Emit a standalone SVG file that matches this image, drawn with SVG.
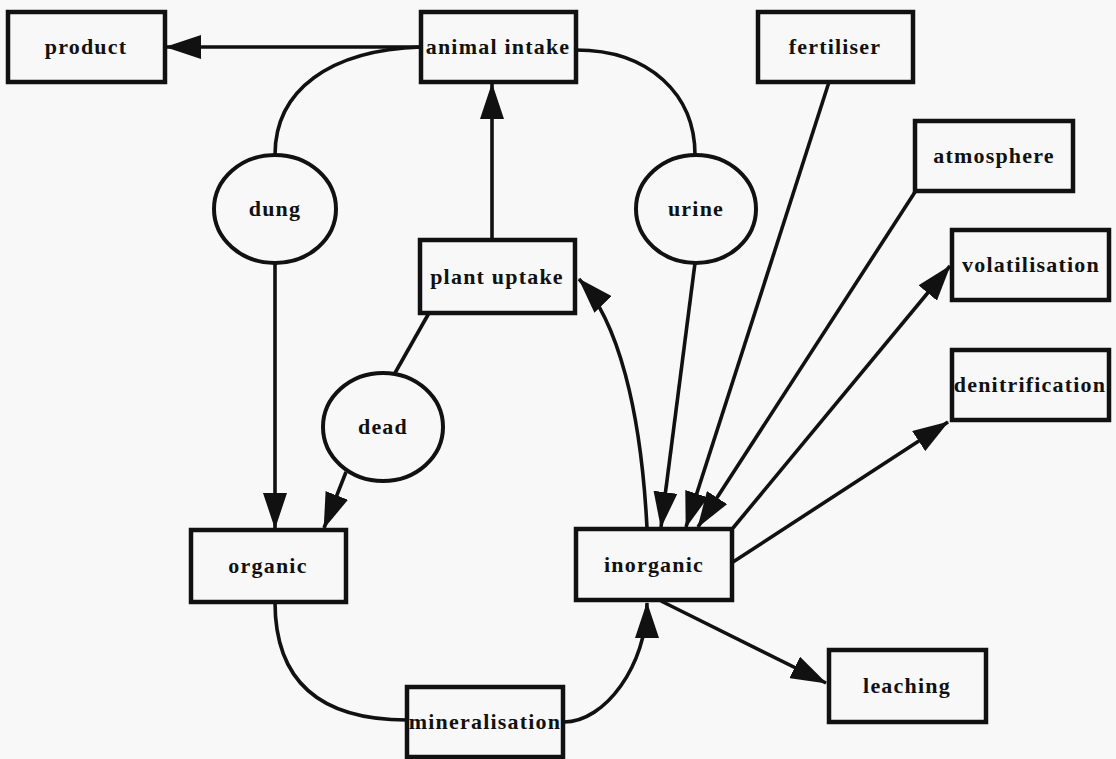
<svg xmlns="http://www.w3.org/2000/svg" width="1116" height="759" viewBox="0 0 1116 759">
<style>
.bx{fill:#f8f8f8;stroke:#111;stroke-width:4.5}
.el{fill:#f8f8f8;stroke:#111;stroke-width:4}
.ln{fill:none;stroke:#111;stroke-width:3.6}
.ar{marker-end:url(#ah)}
text{font-family:"Liberation Serif","Times New Roman",serif;font-weight:bold;font-size:22px;letter-spacing:1.2px;fill:#111;text-anchor:middle}
</style>
<defs>
<marker id="ah" markerUnits="userSpaceOnUse" markerWidth="36" markerHeight="24" refX="35" refY="12" orient="auto">
<path d="M0,0 L36,12 L0,24 Z" fill="#111"/>
</marker>
</defs>
<rect width="1116" height="759" fill="#f8f8f8"/>
<g id="connectors">
<path class="ln ar" d="M421,47 L166,47"/>
<path class="ln" d="M275,155 C275,90 330,50 421,47"/>
<path class="ln" d="M576,50 C650,50 695,95 695,155"/>
<path class="ln ar" d="M492,240 L492,84"/>
<path class="ln ar" d="M275,263 L275,528"/>
<path class="ln" d="M429,313 L395,373"/>
<path class="ln ar" d="M346,472 L324,528"/>
<path class="ln ar" d="M647,528 C641,410 618,320 579,279"/>
<path class="ln ar" d="M695,263 L661,527"/>
<path class="ln ar" d="M829,82 L686,527"/>
<path class="ln ar" d="M915,192 L698,527"/>
<path class="ln ar" d="M733,528 L950,266"/>
<path class="ln ar" d="M733,562 L948,422"/>
<path class="ln ar" d="M661,601 L826,683"/>
<path class="ln" d="M275,602 C275,690 330,720 407,720"/>
<path class="ln ar" d="M564,722 C605,722 647,665 647,603"/>
</g>
<g id="product"><rect class="bx" x="8" y="12" width="157" height="70"/><text x="86" y="54">product</text></g>
<g id="animal-intake"><rect class="bx" x="421" y="12" width="155" height="70"/><text x="498" y="54">animal intake</text></g>
<g id="fertiliser"><rect class="bx" x="758" y="12" width="155" height="70"/><text x="835" y="54">fertiliser</text></g>
<g id="atmosphere"><rect class="bx" x="915" y="121" width="158" height="70"/><text x="994" y="163">atmosphere</text></g>
<g id="volatilisation"><rect class="bx" x="952" y="230" width="157" height="70"/><text x="1031" y="272">volatilisation</text></g>
<g id="denitrification"><rect class="bx" x="952" y="350" width="157" height="70"/><text x="1030" y="392">denitrification</text></g>
<g id="plant-uptake"><rect class="bx" x="420" y="240" width="155" height="73"/><text x="497" y="284">plant uptake</text></g>
<g id="organic"><rect class="bx" x="191" y="530" width="155" height="72"/><text x="268" y="573">organic</text></g>
<g id="inorganic"><rect class="bx" x="576" y="529" width="156" height="71"/><text x="654" y="572">inorganic</text></g>
<g id="leaching"><rect class="bx" x="829" y="650" width="157" height="72"/><text x="907" y="693">leaching</text></g>
<g id="mineralisation"><rect class="bx" x="407" y="687" width="156" height="70"/><text x="485" y="729">mineralisation</text></g>
<g id="dung"><ellipse class="el" cx="275" cy="209" rx="61" ry="54"/><text x="275" y="216">dung</text></g>
<g id="urine"><ellipse class="el" cx="696" cy="209" rx="60" ry="54"/><text x="696" y="216">urine</text></g>
<g id="dead"><ellipse class="el" cx="383" cy="427" rx="60" ry="54"/><text x="383" y="434">dead</text></g>
</svg>
